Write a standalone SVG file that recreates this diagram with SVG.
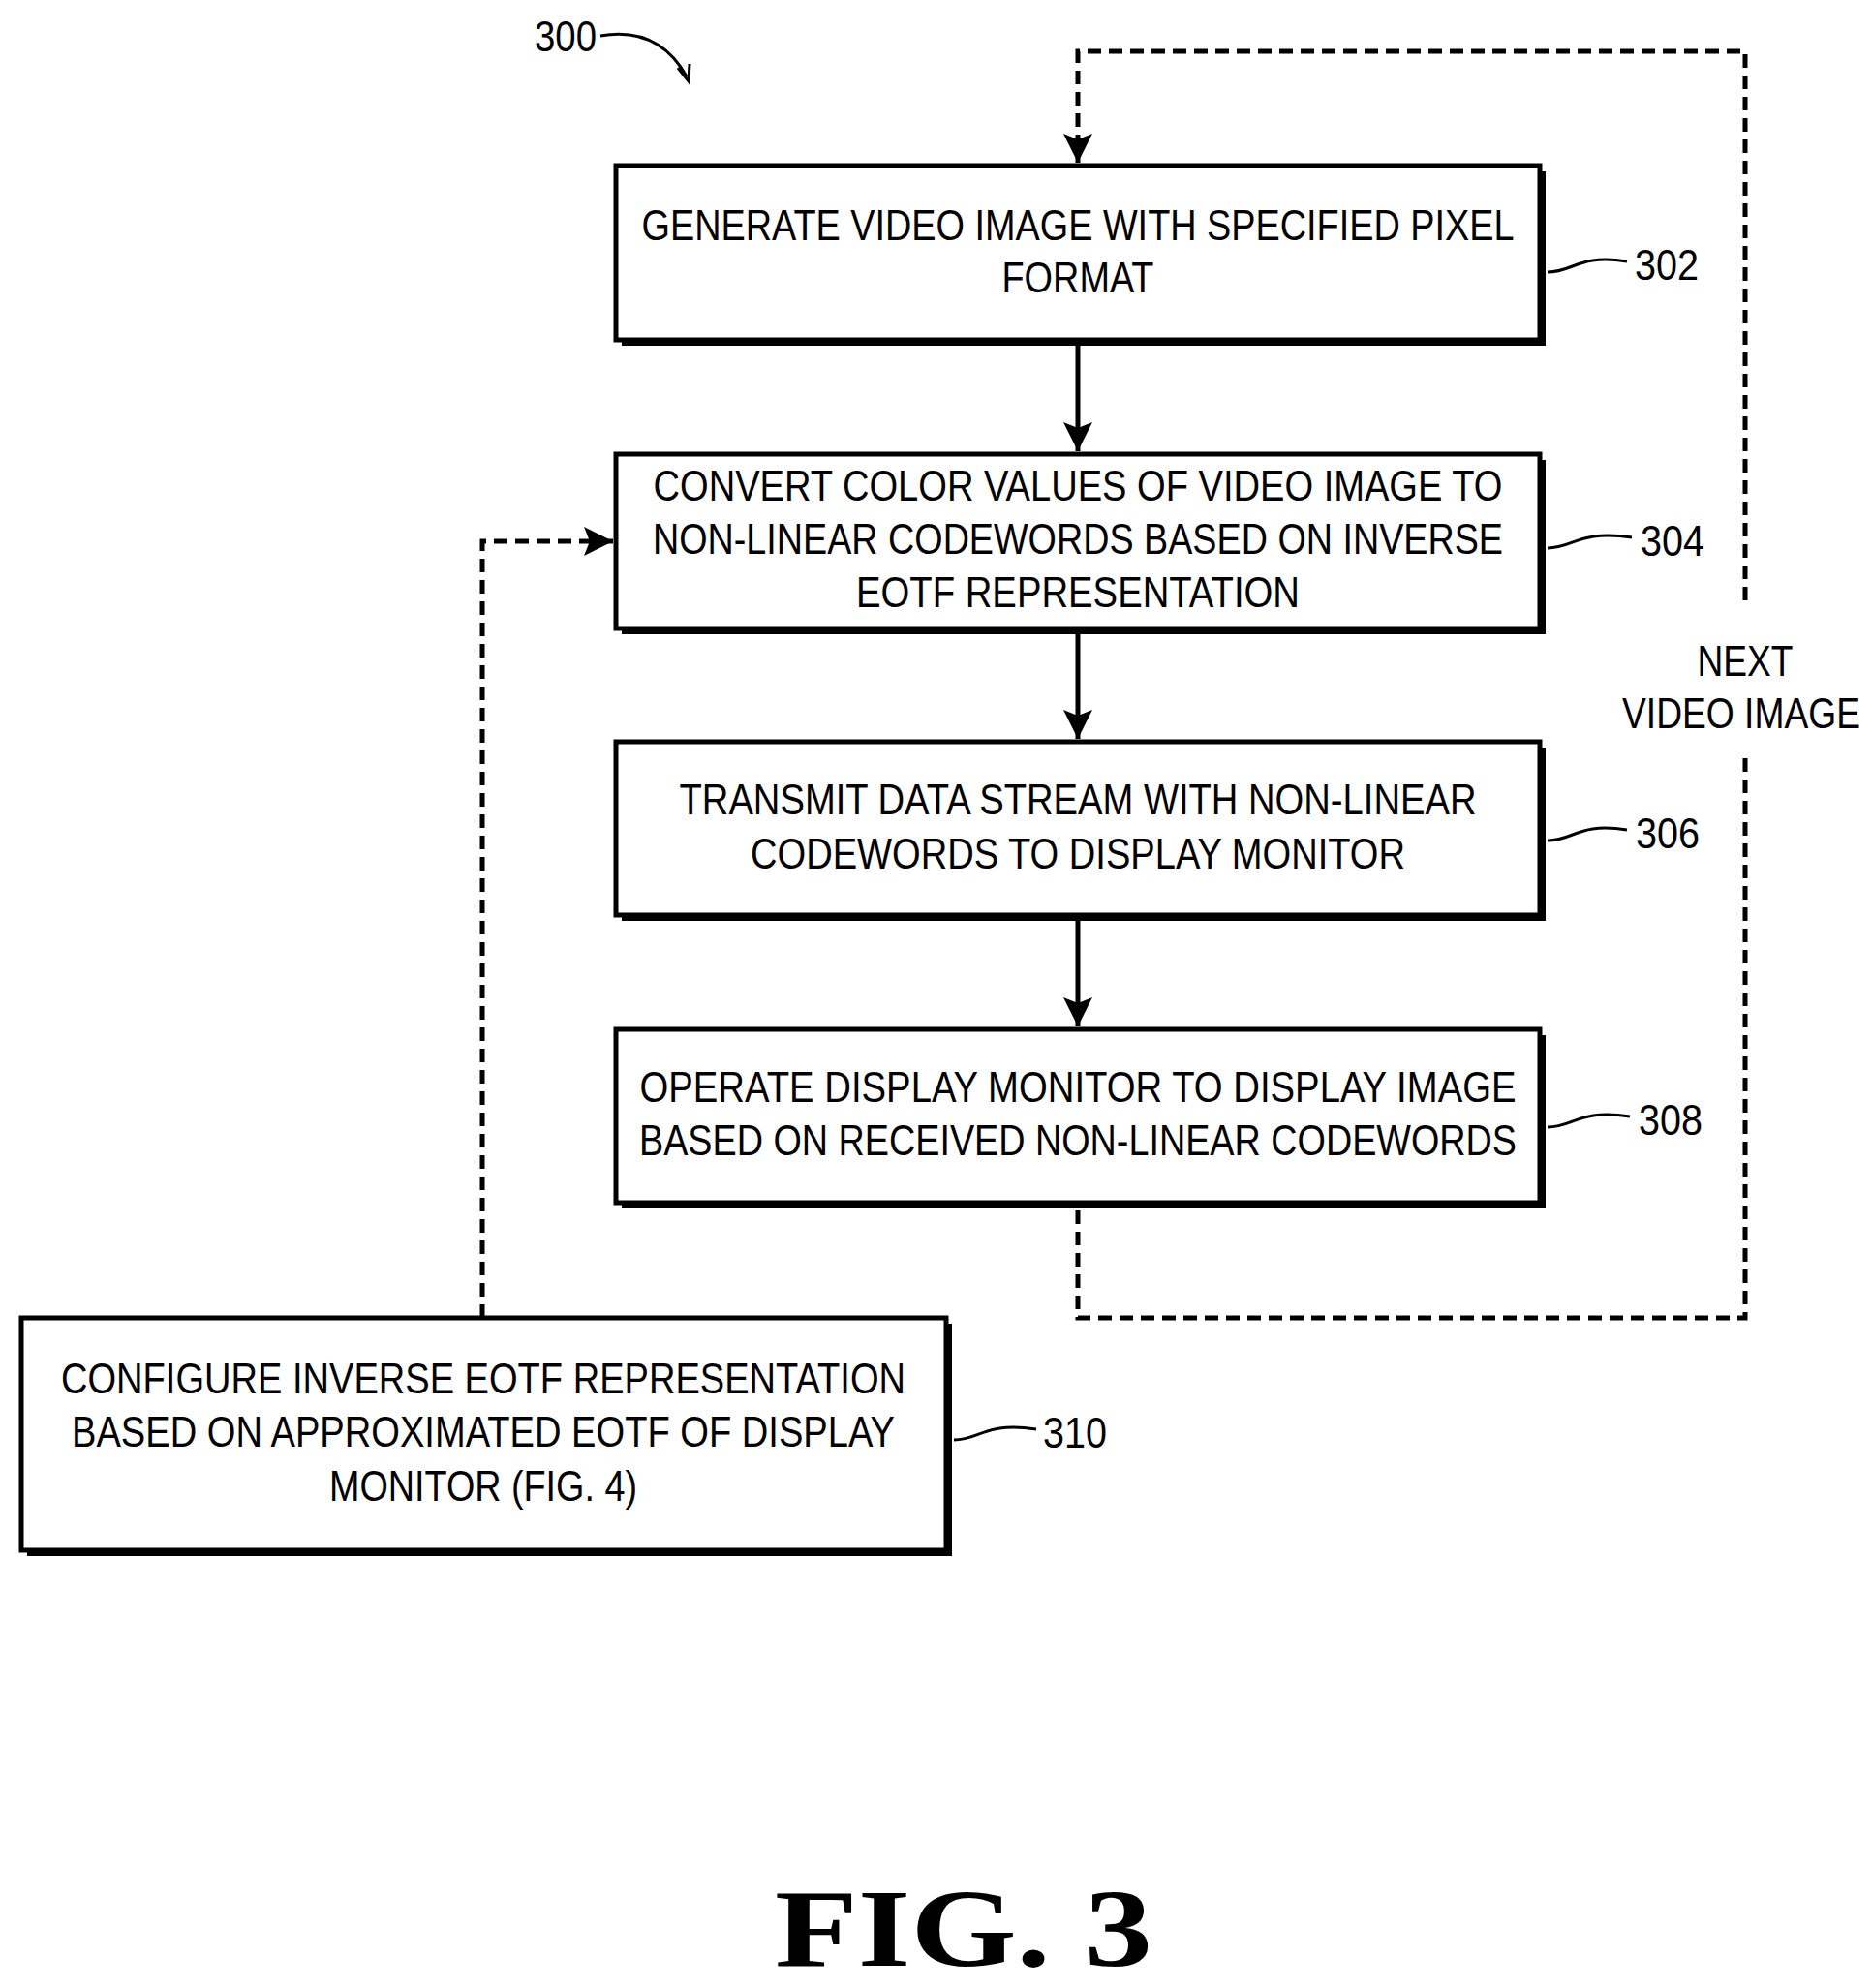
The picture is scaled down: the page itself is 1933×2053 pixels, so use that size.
<svg xmlns="http://www.w3.org/2000/svg" width="1933" height="2053" viewBox="0 0 1933 2053">
<style>
text{font-family:"Liberation Sans",Arial,sans-serif;font-size:45px;fill:#000}
.t{text-anchor:middle}
.box{fill:#fff;stroke:#000;stroke-width:5}
.sh{fill:#000}
.ln{fill:none;stroke:#000;stroke-width:5}
.dash{fill:none;stroke:#000;stroke-width:5;stroke-dasharray:14 8}
.sq{fill:none;stroke:#000;stroke-width:3}
</style>
<defs>
<marker id="a" viewBox="0 0 10 10" refX="10" refY="5" markerWidth="30" markerHeight="30" markerUnits="userSpaceOnUse" orient="auto"><path d="M0,0 L10,5 L0,10 L2,5 z" fill="#000"/></marker>
</defs>
<g id="label300">
<text x="584" y="53" class="t" textLength="64" lengthAdjust="spacingAndGlyphs">300</text>
<path d="M620,37 C660,30 690,45 709,79" class="sq"/>
<path d="M700,70 L711,84 L712,66" fill="none" stroke="#000" stroke-width="3"/>
</g>
<g id="connectors">
<line x1="1113" y1="351" x2="1113" y2="466" class="ln" marker-end="url(#a)"/>
<line x1="1113" y1="649" x2="1113" y2="763" class="ln" marker-end="url(#a)"/>
<line x1="1113" y1="945" x2="1113" y2="1060" class="ln" marker-end="url(#a)"/>
<path d="M1113,1250 V1361 H1802 V778" class="dash"/>
<path d="M1802,620 V53 H1113 V168" class="dash" marker-end="url(#a)"/>
<path d="M498,1361 V559 H633" class="dash" marker-end="url(#a)"/>
</g>
<g id="n302">
<rect x="642" y="177" width="954" height="180" class="sh"/>
<rect x="636" y="171" width="954" height="180" class="box"/>
<text x="1113" y="248" class="t" textLength="901" lengthAdjust="spacingAndGlyphs">GENERATE VIDEO IMAGE WITH SPECIFIED PIXEL</text>
<text x="1113" y="302" class="t" textLength="157" lengthAdjust="spacingAndGlyphs">FORMAT</text>
<path d="M1598,281 C1625,281 1630,262 1680,270" class="sq"/>
<text x="1721" y="289" class="t" textLength="66" lengthAdjust="spacingAndGlyphs">302</text>
</g>
<g id="n304">
<rect x="642" y="475" width="954" height="180" class="sh"/>
<rect x="636" y="469" width="954" height="180" class="box"/>
<text x="1113" y="517" class="t" textLength="877" lengthAdjust="spacingAndGlyphs">CONVERT COLOR VALUES OF VIDEO IMAGE TO</text>
<text x="1113" y="572" class="t" textLength="878" lengthAdjust="spacingAndGlyphs">NON-LINEAR CODEWORDS BASED ON INVERSE</text>
<text x="1113" y="627" class="t" textLength="458" lengthAdjust="spacingAndGlyphs">EOTF REPRESENTATION</text>
<path d="M1598,566 C1625,566 1630,547 1685,555" class="sq"/>
<text x="1727" y="574" class="t" textLength="66" lengthAdjust="spacingAndGlyphs">304</text>
</g>
<g id="n306">
<rect x="642" y="772" width="954" height="179" class="sh"/>
<rect x="636" y="766" width="954" height="179" class="box"/>
<text x="1113" y="841" class="t" textLength="823" lengthAdjust="spacingAndGlyphs">TRANSMIT DATA STREAM WITH NON-LINEAR</text>
<text x="1113" y="897" class="t" textLength="676" lengthAdjust="spacingAndGlyphs">CODEWORDS TO DISPLAY MONITOR</text>
<path d="M1598,868 C1625,868 1630,849 1680,857" class="sq"/>
<text x="1722" y="876" class="t" textLength="66" lengthAdjust="spacingAndGlyphs">306</text>
</g>
<g id="n308">
<rect x="642" y="1069" width="954" height="179" class="sh"/>
<rect x="636" y="1063" width="954" height="179" class="box"/>
<text x="1113" y="1138" class="t" textLength="905" lengthAdjust="spacingAndGlyphs">OPERATE DISPLAY MONITOR TO DISPLAY IMAGE</text>
<text x="1113" y="1193" class="t" textLength="906" lengthAdjust="spacingAndGlyphs">BASED ON RECEIVED NON-LINEAR CODEWORDS</text>
<path d="M1598,1164 C1625,1164 1630,1145 1683,1153" class="sq"/>
<text x="1725" y="1172" class="t" textLength="66" lengthAdjust="spacingAndGlyphs">308</text>
</g>
<g id="n310">
<rect x="28" y="1367" width="955" height="240" class="sh"/>
<rect x="22" y="1361" width="955" height="240" class="box"/>
<text x="499" y="1439" class="t" textLength="872" lengthAdjust="spacingAndGlyphs">CONFIGURE INVERSE EOTF REPRESENTATION</text>
<text x="499" y="1494" class="t" textLength="850" lengthAdjust="spacingAndGlyphs">BASED ON APPROXIMATED EOTF OF DISPLAY</text>
<text x="499" y="1550" class="t" textLength="318" lengthAdjust="spacingAndGlyphs">MONITOR (FIG. 4)</text>
<path d="M985,1487 C1012,1487 1017,1468 1070,1476" class="sq"/>
<text x="1110" y="1495" class="t" textLength="66" lengthAdjust="spacingAndGlyphs">310</text>
</g>
<g id="next">
<text x="1802" y="698" class="t" textLength="99" lengthAdjust="spacingAndGlyphs">NEXT</text>
<text x="1798" y="752" class="t" textLength="246" lengthAdjust="spacingAndGlyphs">VIDEO IMAGE</text>
</g>
<text x="995" y="2030" class="t" style="font-family:'Liberation Serif',serif;font-weight:bold;font-size:115px" textLength="390" lengthAdjust="spacingAndGlyphs">FIG. 3</text>
</svg>
